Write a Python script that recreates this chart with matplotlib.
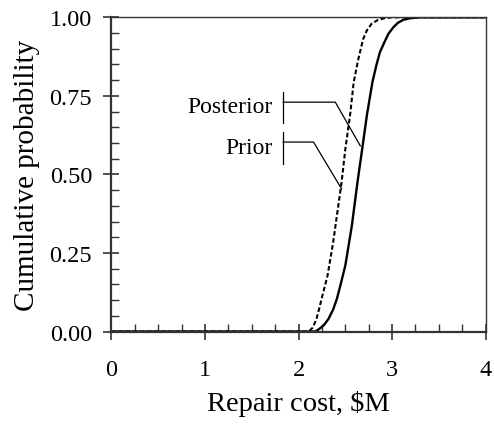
import matplotlib
matplotlib.use("Agg")
import matplotlib.pyplot as plt
from matplotlib.ticker import MultipleLocator

plt.rcParams['font.family'] = ['Liberation Serif', 'DejaVu Serif']

# prior CDF (dashed)
prior_x = [0.0, 2.0, 2.11, 2.15, 2.19, 2.22, 2.26, 2.31, 2.37, 2.42, 2.46, 2.50, 2.55,
           2.59, 2.64, 2.69, 2.73, 2.78, 2.85, 2.92, 3.0, 4.0]
prior_y = [0.0, 0.0, 0.0, 0.012, 0.038, 0.072, 0.12, 0.178, 0.284, 0.39, 0.475, 0.58, 0.687,
           0.794, 0.868, 0.93, 0.958, 0.979, 0.992, 0.997, 1.0, 1.0]

# posterior CDF (solid)
post_x = [0.0, 2.0, 2.18, 2.22, 2.27, 2.32, 2.37, 2.41, 2.45, 2.50, 2.57, 2.63, 2.68, 2.73,
          2.79, 2.83, 2.87, 2.92, 2.96, 3.01, 3.06, 3.12, 3.19, 3.3, 4.0]
post_y = [0.0, 0.0, 0.0, 0.008, 0.02, 0.04, 0.07, 0.104, 0.15, 0.21, 0.337, 0.475, 0.58, 0.687,
          0.794, 0.845, 0.889, 0.922, 0.947, 0.967, 0.982, 0.992, 0.997, 1.0, 1.0]

fig = plt.figure(figsize=(4.94, 4.35), dpi=100)
ax = fig.add_axes([0.2257, 0.2356, 0.7573, 0.7223])

ax.plot(prior_x, prior_y, color='black', lw=1.5, linestyle=(0, (2.2, 1.2)))
ax.plot(post_x, post_y, color='black', lw=1.7)

# callouts
def callout(label, ty, bar_lo, bar_hi, hy, kx, px, py):
    bx = 1.836
    ax.plot([bx, bx], [bar_lo, bar_hi], color='black', lw=0.9)
    ax.plot([bx, kx, px], [hy, hy, py], color='black', lw=0.9)
    ax.text(1.72, ty, label, ha='right', va='center', fontsize=17)

callout('Posterior', 0.715, 0.664, 0.763, 0.730, 2.393, 2.66, 0.591)
callout('Prior', 0.585, 0.533, 0.635, 0.603, 2.16, 2.46, 0.454)

ax.set_xlim(0, 4)
ax.set_ylim(0, 1)
ax.xaxis.set_major_locator(MultipleLocator(1))
ax.xaxis.set_minor_locator(MultipleLocator(0.25))
ax.yaxis.set_major_locator(MultipleLocator(0.25))
ax.yaxis.set_minor_locator(MultipleLocator(0.05))
ax.yaxis.set_major_formatter(matplotlib.ticker.FormatStrFormatter('%.2f'))

ax.tick_params(which='major', direction='inout', length=12, width=1.2, color='#333333', labelsize=17.5)
ax.tick_params(which='minor', direction='in', length=6, width=1.0, color='#333333')
ax.tick_params(axis='x', which='major', pad=14)
ax.tick_params(axis='y', which='major', pad=8)

for side in ['left', 'bottom']:
    ax.spines[side].set_linewidth(1.6)
    ax.spines[side].set_color('#333333')
for side in ['top', 'right']:
    ax.spines[side].set_linewidth(1.0)
    ax.spines[side].set_color('#333333')

ax.set_xlabel('Repair cost, $M', fontsize=20.5)
ax.set_ylabel('Cumulative probability', fontsize=21)
ax.xaxis.set_label_coords(0.5, -0.185)
ax.yaxis.set_label_coords(-0.19, 0.5)

fig.savefig('out.png', dpi=100)
